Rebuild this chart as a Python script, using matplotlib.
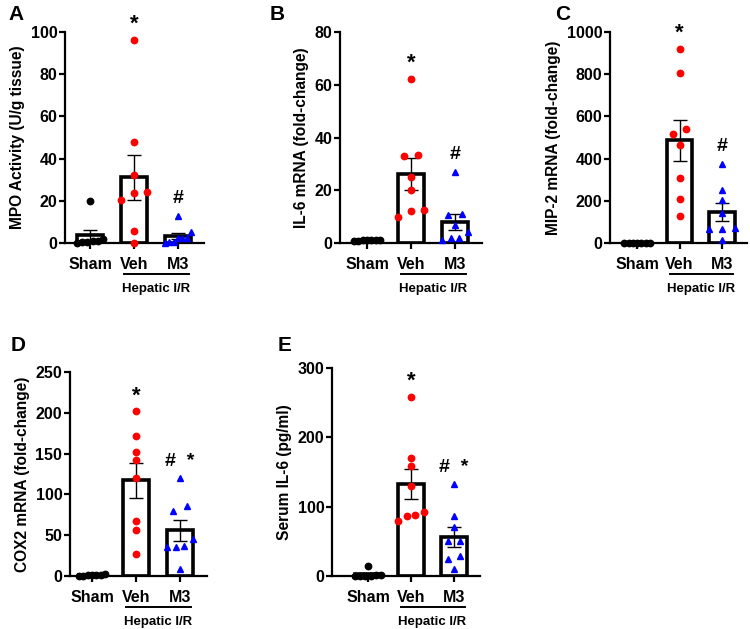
import numpy as np
import matplotlib
matplotlib.use("Agg")
import matplotlib.pyplot as plt

plt.rcParams["font.family"] = ["Liberation Sans", "DejaVu Sans"]
plt.rcParams["font.weight"] = "bold"

RED, BLUE, BLACK = "#ff0000", "#0000ff", "#000000"
W, H = 750, 629

groups = ["Sham", "Veh", "M3"]

# panel A - MPO activity
mpo_sham = [20, 2, 1, 0.5, 0.5, 0, 1]
mpo_veh = [96, 48, 32, 24, 23.5, 20.5, 5.5, 0]
mpo_m3 = [13, 5, 2.5, 2.5, 2.5, 0.5, 0.3, 0]

# panel B - IL-6 mRNA
il6_sham = [1.2, 1.0, 0.8, 1.1, 0.9, 1.0, 1.0]
il6_veh = [62, 33.5, 33, 25, 20, 12.5, 12.3, 10]
il6_m3 = [27, 10.5, 11, 7, 4, 2, 2, 1]

# panel C - MIP-2 mRNA
mip_sham = [1, 1, 1, 1, 1, 1, 1]
mip_veh = [920, 805, 540, 515, 465, 310, 210, 130]
mip_m3 = [375, 250, 205, 140, 68, 65, 70, 12]

# panel D - COX2 mRNA
cox_sham = [3, 1.5, 1, 0.5, 0.5, 0.8, 1.2]
cox_veh = [202, 172, 152, 142, 120, 68, 56, 27]
cox_m3 = [120, 86, 80, 45, 37, 35, 36, 9]

# panel E - serum IL-6
ser_sham = [15, 2, 1, 0.5, 0, 0, 0]
ser_veh = [258, 170, 158, 130, 92, 88, 87, 80]
ser_m3 = [133, 86, 70, 50, 50, 29, 24, 10]

# (letter, ylabel, ymax, ystep, data, veh mark, m3 mark,
#  left px, right px, top px, bottom px, first category px, spacing px)
panels = [
    ("A", "MPO Activity (U/g tissue)", 100, 20, (mpo_sham, mpo_veh, mpo_m3), "*", "#",
     65, 204, 32, 243, 90, 44),
    ("B", "IL-6 mRNA (fold-change)", 80, 20, (il6_sham, il6_veh, il6_m3), "*", "#",
     340, 482, 32, 243, 367, 44),
    ("C", "MIP-2 mRNA (fold-change)", 1000, 200, (mip_sham, mip_veh, mip_m3), "*", "#",
     610, 747, 32, 243, 637, 42.5),
    ("D", "COX2 mRNA (fold-change)", 250, 50, (cox_sham, cox_veh, cox_m3), "*", "#  *",
     70, 207, 372, 576, 92, 44),
    ("E", "Serum IL-6 (pg/ml)", 300, 100, (ser_sham, ser_veh, ser_m3), "*", "#  *",
     332, 480, 368, 576, 368, 43),
]
letter_pos = {"A": (16, 15), "B": (277, 15), "C": (563, 15),
              "D": (18, 345), "E": (285, 345)}


def swarm(vals, thr, maxdx=0.3, width=0.6):
    """simple horizontal spread for points that sit close together"""
    vals = np.asarray(vals, float)
    order = np.argsort(vals)
    xs = np.zeros(len(vals))
    clusters, cur = [], [order[0]]
    for i in order[1:]:
        if vals[i] - vals[cur[-1]] < thr:
            cur.append(i)
        else:
            clusters.append(cur); cur = [i]
    clusters.append(cur)
    for c in clusters:
        n = len(c)
        if n > 1:
            dx = min(maxdx, width / (n - 1))
            for k, i in enumerate(c):
                xs[i] = (k - (n - 1) / 2) * dx
    return xs


fig = plt.figure(figsize=(W / 100, H / 100), dpi=100)
colors = [BLACK, RED, BLUE]
markers = ["o", "o", "^"]

for (let, ylab, ymax, ystep, data, m_veh, m_m3, L, R, T, B, c0, sp) in panels:
    ax = fig.add_axes([L / W, 1 - B / H, (R - L) / W, (B - T) / H])
    for i, vals in enumerate(data):
        v = np.asarray(vals, float)
        mean = v.mean()
        sem = v.std(ddof=1) / np.sqrt(len(v))
        ax.bar(i, mean, width=0.6, facecolor="white", edgecolor="black",
               linewidth=2.6, zorder=1)
        ax.errorbar(i, mean, yerr=sem, color="black", lw=1.0, capsize=5,
                    capthick=1.0, zorder=3)
        xs = i + swarm(v, ymax * 0.035)
        ax.plot(xs, v, ls="none", marker=markers[i], color=colors[i],
                markersize=4.6, zorder=4, clip_on=False)
    # significance marks
    ax.text(1, max(data[1]) + 0.075 * ymax, m_veh, ha="center", va="center",
            fontsize=16, fontweight="bold")
    ax.text(2, max(data[2]) + 0.08 * ymax, m_m3, ha="center", va="center",
            fontsize=14, fontweight="bold")

    ax.set_xlim(-(c0 - L) / sp, 2 + (R - (c0 + 2 * sp)) / sp)
    ax.set_ylim(0, ymax)
    ax.set_yticks(np.arange(0, ymax + 1, ystep))
    ax.set_xticks(range(3))
    ax.set_xticklabels(groups)
    for s in ["top", "right"]:
        ax.spines[s].set_visible(False)
    for s in ["left", "bottom"]:
        ax.spines[s].set_linewidth(1.6)
    ax.tick_params(axis="y", direction="out", length=4, width=1.6,
                   labelsize=11.5, pad=1.5)
    ax.tick_params(axis="x", direction="out", length=4, width=1.6,
                   labelsize=11.5, pad=6)
    for t in ax.get_xticklabels() + ax.get_yticklabels():
        t.set_fontweight("bold")
    ax.set_ylabel(ylab, fontsize=11.2, fontweight="bold", labelpad=4)

    # Hepatic I/R bracket under Veh and M3
    hpx = B - T
    ax.plot([0.77, 2.25], [-31 / hpx, -31 / hpx], color="black", lw=1.4,
            transform=ax.get_xaxis_transform(), clip_on=False)
    ax.text(1.5, -46 / hpx, "Hepatic I/R", ha="center", va="center",
            fontsize=9.5, fontweight="bold", transform=ax.get_xaxis_transform())

    lx, ly = letter_pos[let]
    fig.text(lx / W, 1 - ly / H, let, ha="center", va="center",
             fontsize=15, fontweight="bold")

fig.savefig("out.png", dpi=100)
